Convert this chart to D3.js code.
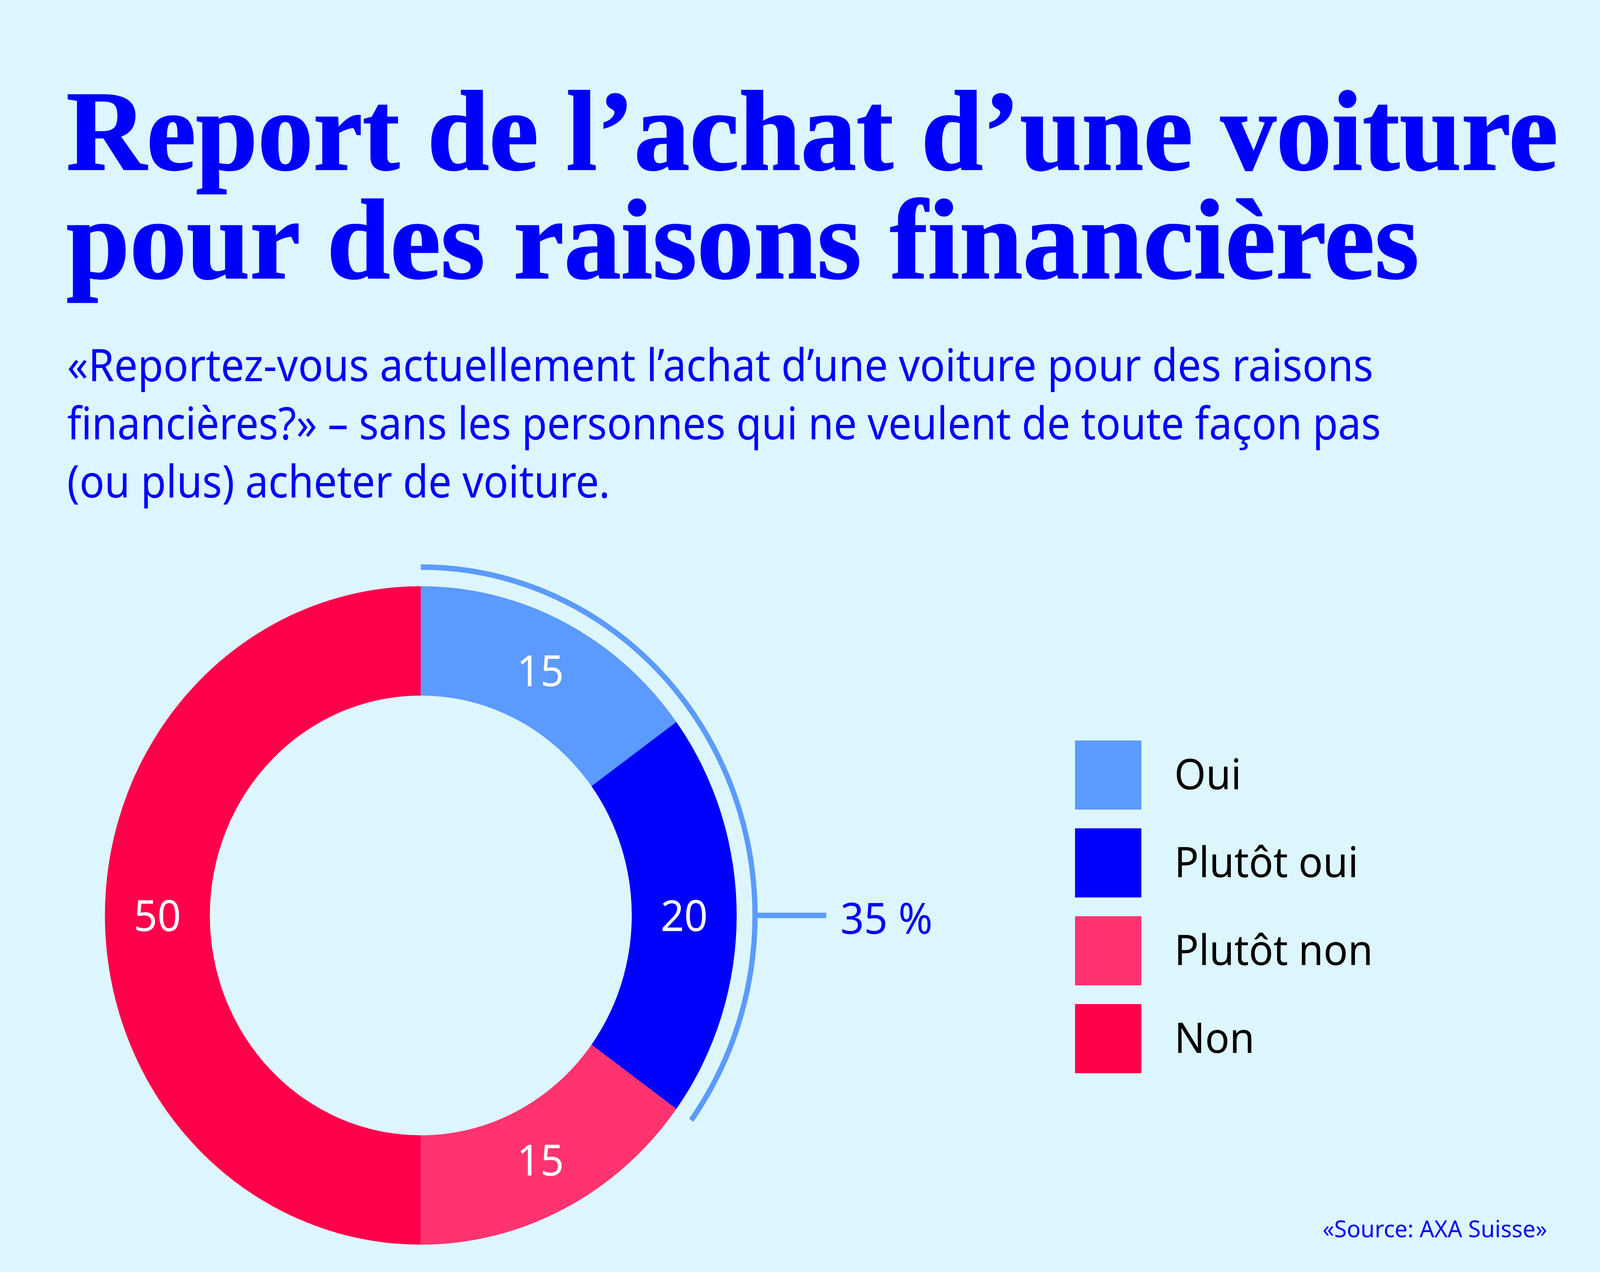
<!DOCTYPE html>
<html lang="fr">
<head>
  <meta charset="UTF-8">
  <title>Report de l'achat d'une voiture</title>
  <script src="https://cdnjs.cloudflare.com/ajax/libs/d3/7.8.5/d3.min.js"></script>
  <style>
    html, body { margin: 0; padding: 0; background: #ddf6fd; overflow: hidden; }
    svg { display: block; width: 100vw; height: 100vh; }
  </style>
</head>
<body>
  <div id="chart"></div>

  <script>
    // Data
    const categories = ["Oui", "Plutôt oui", "Plutôt non", "Non"];
    const values = [15, 20, 15, 50];
    const colors = ["#5b9aff", "#0000ff", "#ff3370", "#ff004b"];
    const titleLines = ["Report de l\u2019achat d\u2019une voiture", "pour des raisons financières"];
    const subtitleLines = [
      "«Reportez-vous actuellement l\u2019achat d\u2019une voiture pour des raisons",
      "financières?» \u2013 sans les personnes qui ne veulent de toute façon pas",
      "(ou plus) acheter de voiture."
    ];
    const bracketLabel = "35 %";
    const sourceText = "«Source: AXA Suisse»";

    const W = 4270, H = 3257;
    const blue = "#0000ff";

    const svg = d3.select("#chart").append("svg")
      .attr("viewBox", `0 0 ${W} ${H}`)
      .attr("preserveAspectRatio", "none");

    svg.append("rect").attr("width", W).attr("height", H).attr("fill", "#ddf6fd");

    // Title
    const titleWidths = [3981, 3610];
    svg.selectAll("text.title")
      .data(titleLines)
      .join("text")
      .attr("class", "title")
      .attr("x", 177)
      .attr("y", (d, i) => 434 + i * 278)
      .attr("textLength", (d, i) => titleWidths[i])
      .attr("lengthAdjust", "spacingAndGlyphs")
      .style("font-family", "'Liberation Serif', serif")
      .style("font-weight", 700)
      .style("font-size", "292px")
      .attr("fill", blue)
      .attr("stroke", blue)
      .attr("stroke-width", 3)
      .text(d => d);

    // Subtitle
    const subWidths = [3486, 3506, 1449];
    svg.selectAll("text.sub")
      .data(subtitleLines)
      .join("text")
      .attr("class", "sub")
      .attr("x", 179)
      .attr("y", (d, i) => 976 + i * 149)
      .attr("textLength", (d, i) => subWidths[i])
      .attr("lengthAdjust", "spacingAndGlyphs")
      .style("font-family", "'Noto Sans', sans-serif")
      .style("font-size", "115px")
      .attr("fill", blue)
      .text(d => d);

    // Donut
    const cx = 1123, cy = 2344;
    const rOuter = 843, rInner = 563;

    const pie = d3.pie().sort(null).value(d => d.value);
    const arcs = pie(categories.map((c, i) => ({ name: c, value: values[i], color: colors[i] })));
    const arc = d3.arc().innerRadius(rInner).outerRadius(rOuter);

    const g = svg.append("g").attr("transform", `translate(${cx},${cy})`);

    g.selectAll("path.slice")
      .data(arcs)
      .join("path")
      .attr("class", "slice")
      .attr("d", arc)
      .attr("fill", d => d.data.color);

    g.selectAll("text.val")
      .data(arcs)
      .join("text")
      .attr("class", "val")
      .attr("transform", d => `translate(${arc.centroid(d)})`)
      .attr("text-anchor", "middle")
      .attr("dy", "0.36em")
      .style("font-family", "'Noto Sans', sans-serif")
      .style("font-size", "110px")
      .attr("fill", "#fff")
      .text(d => d.data.value);

    // Bracket arc spanning "Oui" + "Plutôt oui"
    const bracketEnd = arcs[1].endAngle;
    const rBracket = 892;
    const bracket = d3.arc()
      .innerRadius(rBracket - 7)
      .outerRadius(rBracket + 7)
      .startAngle(0)
      .endAngle(bracketEnd);
    g.append("path").attr("d", bracket()).attr("fill", colors[0]);

    // connector at the right-hand side (horizontal through the centre)
    g.append("line")
      .attr("x1", rBracket)
      .attr("y1", 0)
      .attr("x2", rBracket + 190)
      .attr("y2", 0)
      .attr("stroke", colors[0])
      .attr("stroke-width", 14);

    g.append("text")
      .attr("x", 1120)
      .attr("y", 47)
      .style("font-family", "'Noto Sans', sans-serif")
      .style("font-size", "110px")
      .attr("fill", blue)
      .text(bracketLabel);

    // Legend
    const legend = svg.append("g").attr("transform", "translate(2869,1896)");
    const item = legend.selectAll("g")
      .data(categories)
      .join("g")
      .attr("transform", (d, i) => `translate(0,${i * 225})`);
    item.append("rect")
      .attr("width", 177)
      .attr("height", 177)
      .attr("fill", (d, i) => colors[i]);
    item.append("text")
      .attr("x", 265)
      .attr("y", 125)
      .style("font-family", "'Noto Sans', sans-serif")
      .style("font-size", "108px")
      .attr("fill", "#000")
      .text(d => d);

    // Source
    svg.append("text")
      .attr("x", 4129)
      .attr("y", 3168)
      .attr("text-anchor", "end")
      .style("font-family", "'Noto Sans', sans-serif")
      .style("font-size", "61px")
      .attr("fill", blue)
      .text(sourceText);
  </script>
</body>
</html>
